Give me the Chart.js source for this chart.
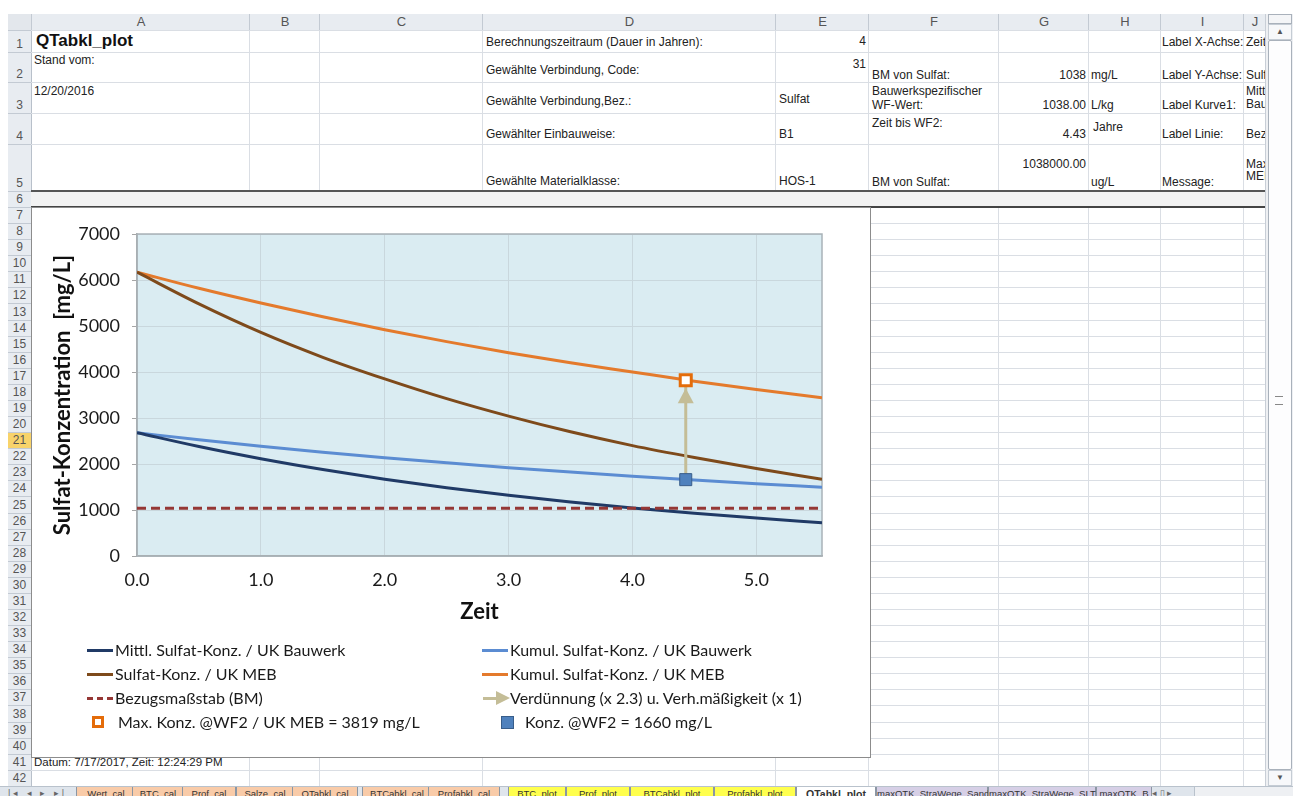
<!DOCTYPE html>
<html>
<head>
<meta charset="utf-8">
<title>QTabkl_plot</title>
<script src="https://cdn.jsdelivr.net/npm/chart.js@4.4.1/dist/chart.umd.min.js"></script>
<style>
  body { margin: 0; width: 1293px; height: 796px; overflow: hidden; background: #fff; position: relative;
         font-family: "Liberation Sans", Arial, sans-serif; }
  .abs { position: absolute; }
  .txt { position: absolute; white-space: nowrap; font-size: 12px; color: #222; line-height: 14px; }
  #sheet, #texts { position: absolute; left: 0; top: 0; width: 1265px; height: 796px; overflow: hidden; }
  #chartBox { position: absolute; left: 31px; top: 207px; width: 838px; height: 549px;
              border: 1px solid #8c8c8c; background: #fff; z-index: 5; }
  #chartBox canvas { position: absolute; left: 0; top: 0; }
  .leg { position: absolute; font-family: Lato, "Open Sans", sans-serif; font-size: 16px; color: #1a1a1a;
         white-space: nowrap; line-height: 18px; }
  #tabs { position: absolute; left: 0; top: 786px; width: 1293px; height: 20px; background: #dfe5ec;
          border-top: 1px solid #b9c2cc; z-index: 6; font-size: 9.5px; }
  .tab { position: absolute; top: 0; height: 20px; line-height: 14px; text-align: center; color: #333;
         border-left: 1px solid #8b96a3; border-right: 1px solid #8b96a3; }
  #vscroll { position: absolute; left: 1265px; top: 14px; width: 28px; height: 772px; background: #eef0f3;
             border-left: 1px solid #c8ced6; z-index: 6; }
</style>
</head>
<body>
<div id="sheet"></div>
<div id="texts"></div>
<div id="chartBox"><canvas id="chart" width="838" height="549"></canvas></div>
<div id="vscroll"></div>
<div id="tabs"></div>

<script>
// --- Werte aus dem Diagramm ---
const zeit = [0, 0.5, 1, 1.5, 2, 2.5, 3, 3.5, 4, 4.5, 5, 5.53];
const mittlBauwerk = [2680, 2380, 2115, 1880, 1670, 1485, 1320, 1175, 1045, 930, 825, 725];
const kumulBauwerk = [2680, 2525, 2385, 2255, 2135, 2025, 1920, 1825, 1735, 1650, 1570, 1495];
const konzMEB = [6170, 5480, 4860, 4320, 3850, 3420, 3040, 2700, 2400, 2140, 1900, 1670];
const kumulMEB = [6170, 5820, 5500, 5200, 4920, 4660, 4420, 4200, 4000, 3800, 3620, 3440];
const bmSulfat = 1038;
const zeitWF2 = 4.43;
const maxKonzWF2 = 3819;
const konzWF2 = 1660;
const xTicks = [0, 1, 2, 3, 4, 5];
const yTicks = [0, 1000, 2000, 3000, 4000, 5000, 6000, 7000];

// --- Tabellenblatt nachbauen ---
const sheet = document.getElementById('sheet');
const texts = document.getElementById('texts');
function box(parent, l, t, w, h, css) {
    const d = document.createElement('div');
    d.className = 'abs';
    d.style.cssText += `left:${l}px;top:${t}px;width:${w}px;height:${h}px;` + (css || '');
    parent.appendChild(d);
    return d;
}

const colEdges = [31, 249, 319, 482, 775, 868, 998, 1088, 1160, 1243, 1265];
const colNames = ['A', 'B', 'C', 'D', 'E', 'F', 'G', 'H', 'I', 'J'];
const rowEdges = [30, 52, 82, 113, 144, 191, 207];
for (let k = 1; k <= 36; k++) rowEdges.push(207 + k * 16.08);

// Kopfzeile und Zeilenköpfe
box(sheet, 8, 14, 1257, 16, 'background:#e8ecf1;border-bottom:1px solid #b8c0ca;');
box(sheet, 8, 30, 23, 756, 'background:#e8ecf1;border-right:1px solid #b8c0ca;');
box(sheet, 8, 14, 23, 16, 'background:#e3e7ec;border-right:1px solid #b8c0ca;');
colNames.forEach((n, i) => {
    const l = colEdges[i], w = colEdges[i + 1] - l;
    const c = box(sheet, l, 14, w, 16, 'border-left:1px solid #c3cad3;text-align:center;font-size:13px;line-height:16px;color:#555;');
    c.textContent = n;
});
for (let r = 0; r < rowEdges.length - 1; r++) {
    const t = rowEdges[r], h = rowEdges[r + 1] - t;
    const sel = r + 1 === 21;
    const c = box(sheet, 8, t, 23, h, `border-top:1px solid #c3cad3;font-size:12px;color:#555;text-align:center;` +
        `display:flex;align-items:flex-end;justify-content:center;box-sizing:border-box;padding-bottom:1px;` +
        (sel ? 'background:#f8d36a;' : ''));
    c.textContent = r + 1;
    // Gitterlinien
    box(sheet, 31, t, 1234, 1, 'background:#dadee4;');
}
colEdges.slice(1, -1).forEach(x => box(sheet, x, 30, 1, 756, 'background:#dadee4;'));
// Zeile 6 mit dicken Rahmenlinien
box(sheet, 31, 191, 1234, 16, 'background:#f2f2f2;');
box(sheet, 31, 190, 1234, 2, 'background:#555;');
box(sheet, 31, 206, 1234, 2, 'background:#444;');

// Zellinhalte: [x, yMitte, Text, rechtsbündig, Stil]
const cells = [
    [36, 41, 'QTabkl_plot', false, 'font-weight:bold;font-size:17px;color:#111;'],
    [486, 42, 'Berechnungszeitraum (Dauer in Jahren):'],
    [866, 41, '4', true],
    [1162, 42, 'Label X-Achse:'],
    [1246, 42, 'Zeit'],
    [34, 60, 'Stand vom:'],
    [486, 70, 'Gewählte Verbindung, Code:'],
    [866, 64, '31', true],
    [872, 75, 'BM von Sulfat:'],
    [1086, 75, '1038', true],
    [1091, 75, 'mg/L'],
    [1162, 75, 'Label Y-Achse:'],
    [1246, 75, 'Sulf'],
    [34, 91, '12/20/2016'],
    [486, 101, 'Gewählte Verbindung,Bez.:'],
    [779, 99, 'Sulfat'],
    [872, 91, 'Bauwerkspezifischer'],
    [872, 105, 'WF-Wert:'],
    [1086, 105, '1038.00', true],
    [1091, 105, 'L/kg'],
    [1162, 105, 'Label Kurve1:'],
    [1246, 91, 'Mitt'],
    [1246, 104, 'Bau'],
    [486, 134, 'Gewählter Einbauweise:'],
    [779, 134, 'B1'],
    [872, 123, 'Zeit bis WF2:'],
    [1086, 134, '4.43', true],
    [1093, 127, 'Jahre'],
    [1162, 134, 'Label Linie:'],
    [1246, 134, 'Bez'],
    [486, 181, 'Gewählte Materialklasse:'],
    [779, 181, 'HOS-1'],
    [872, 182, 'BM von Sulfat:'],
    [1086, 164, '1038000.00', true],
    [1091, 182, 'ug/L'],
    [1162, 182, 'Message:'],
    [1246, 164, 'Max'],
    [1246, 176, 'MEI'],
    [34, 762, 'Datum: 7/17/2017, Zeit: 12:24:29 PM', false, 'font-size:11.5px;']
];
cells.forEach(([x, y, s, right, css]) => {
    const d = document.createElement('div');
    d.className = 'txt';
    d.style.cssText += `top:${y - 7}px;` + (right ? `right:${1265 - x}px;` : `left:${x}px;`) + (css || '');
    d.textContent = s;
    texts.appendChild(d);
});

// vertikale Bildlaufleiste
const vs = document.getElementById('vscroll');
box(vs, 2, 0, 22, 8, 'background:#f4f5f7;border:1px solid #a9b1bb;');
box(vs, 2, 10, 22, 14, 'background:#f7f8fa;border:1px solid #c5ccd4;text-align:center;font-size:8px;line-height:14px;color:#555;').textContent = '▲';
box(vs, 2, 26, 22, 728, 'background:#fdfdfe;border:1px solid #a9b1bb;border-radius:2px;');
box(vs, 9, 382, 8, 7, 'border-top:1px solid #888;border-bottom:1px solid #888;');
box(vs, 2, 756, 22, 14, 'background:#f7f8fa;border:1px solid #c5ccd4;text-align:center;font-size:8px;line-height:14px;color:#555;').textContent = '▼';

// Blattregister
const tabsDiv = document.getElementById('tabs');
box(tabsDiv, 8, 0, 60, 13, 'font-size:9px;color:#666;line-height:13px;letter-spacing:3px;').textContent = '|◂ ◂ ▸ ▸|';
const tabs = [
    ['Wert_cal', 76, 58, '#f9cba8'], ['BTC_cal', 132, 50, '#f9cba8'], ['Prof_cal', 182, 52, '#f9cba8'],
    ['Salze_cal', 236, 56, '#f9cba8'], ['QTabkl_cal', 292, 64, '#f9cba8'], ['BTCabkl_cal', 362, 68, '#f9cba8'],
    ['Profabkl_cal', 428, 70, '#f9cba8'], ['BTC_plot', 508, 56, '#ffff4d'], ['Prof_plot', 566, 62, '#ffff4d'],
    ['BTCabkl_plot', 630, 82, '#ffff4d'], ['Profabkl_plot', 714, 80, '#ffff4d'], ['QTabkl_plot', 796, 78, '#ffffff'],
    ['maxQTK_StraWege_Sand', 876, 110, '#d6cfe6'], ['maxQTK_StraWege_SLT', 988, 106, '#d6cfe6'],
    ['maxQTK_B', 1096, 54, '#d6cfe6']
];
tabs.forEach(([n, l, w, bg]) => {
    const t = box(tabsDiv, l, 0, w, 20, `background:${bg};` + (n === 'QTabkl_plot' ? 'font-weight:bold;font-size:10.5px;' : ''));
    t.className = 'tab';
    t.textContent = n;
});
box(tabsDiv, 1152, 0, 40, 13, 'font-size:9px;color:#666;line-height:12px;').textContent = '◂ ▯ ▸';
box(tabsDiv, 1194, 0, 99, 12, 'background:#eef0f3;border-left:1px solid #b9c2cc;');

// --- Diagramm ---
Chart.defaults.font.family = 'Lato, "Open Sans", sans-serif';
Chart.defaults.color = '#1a1a1a';

const pts = ys => zeit.map((t, i) => ({ x: t, y: ys[i] }));
const lastZeit = zeit[zeit.length - 1];

const excelPlot = {
    id: 'excelPlot',
    beforeDraw(chart) {
        const { ctx, chartArea: a } = chart;
        ctx.save();
        ctx.fillStyle = '#daecf2';
        ctx.fillRect(a.left, a.top, a.right - a.left, a.bottom - a.top);
        ctx.restore();
    },
    beforeDatasetsDraw(chart) {
        const { ctx, chartArea: a } = chart;
        ctx.save();
        ctx.strokeStyle = '#a9b3b8';
        ctx.lineWidth = 1.5;
        ctx.strokeRect(a.left, a.top, a.right - a.left, a.bottom - a.top);
        ctx.restore();
    },
    afterDatasetsDraw(chart) {
        // Pfeilspitze unter dem Max.-Marker
        const meta = chart.getDatasetMeta(5);
        const tip = meta.data[1];
        if (!tip) return;
        const { ctx } = chart;
        const y = tip.y + 8;
        ctx.save();
        ctx.fillStyle = '#c4bd97';
        ctx.beginPath();
        ctx.moveTo(tip.x, y);
        ctx.lineTo(tip.x - 8, y + 15);
        ctx.lineTo(tip.x + 8, y + 15);
        ctx.closePath();
        ctx.fill();
        ctx.restore();
    }
};

const chart = new Chart(document.getElementById('chart'), {
    type: 'line',
    data: {
        datasets: [
            { label: 'Mittl. Sulfat-Konz. / UK Bauwerk', data: pts(mittlBauwerk), borderColor: '#203a66', order: 2, legendType: 'line' },
            { label: 'Kumul. Sulfat-Konz. / UK Bauwerk', data: pts(kumulBauwerk), borderColor: '#5b8cd2', order: 2, legendType: 'line' },
            { label: 'Sulfat-Konz. / UK MEB', data: pts(konzMEB), borderColor: '#7e4a1b', order: 2, legendType: 'line' },
            { label: 'Kumul. Sulfat-Konz. / UK MEB', data: pts(kumulMEB), borderColor: '#e47a2c', order: 2, legendType: 'line' },
            { label: 'Bezugsmaßstab (BM)', data: [{ x: zeit[0], y: bmSulfat }, { x: lastZeit, y: bmSulfat }],
              borderColor: '#953735', borderDash: [9, 5], order: 1.5, legendType: 'dash' },
            { label: 'Verdünnung (x 2.3) u. Verh.mäßigkeit (x 1)', data: [{ x: zeitWF2, y: konzWF2 }, { x: zeitWF2, y: maxKonzWF2 }],
              borderColor: '#c4bd97', order: 1, legendType: 'arrow' },
            { label: 'Max. Konz. @WF2 / UK MEB = ' + maxKonzWF2 + ' mg/L', data: [{ x: zeitWF2, y: maxKonzWF2 }],
              showLine: false, pointStyle: 'rect', pointRadius: 7.8, pointBorderWidth: 3,
              borderColor: '#e46c0a', backgroundColor: '#ffffff', order: 0, legendType: 'hollow' },
            { label: 'Konz. @WF2 = ' + konzWF2 + ' mg/L', data: [{ x: zeitWF2, y: konzWF2 }],
              showLine: false, pointStyle: 'rect', pointRadius: 8.5, pointBorderWidth: 1,
              borderColor: '#385d8a', backgroundColor: '#4f81bd', order: 0, legendType: 'filled' }
        ]
    },
    options: {
        responsive: false,
        animation: false,
        events: [],
        elements: {
            line: { borderWidth: 3, cubicInterpolationMode: 'monotone', fill: false },
            point: { radius: 0 }
        },
        layout: { padding: { top: 26, right: 48, bottom: 121, left: 0 } },
        plugins: { legend: { display: false }, tooltip: { enabled: false } },
        scales: {
            x: {
                type: 'linear',
                min: 0,
                max: lastZeit,
                afterBuildTicks: s => { s.ticks = xTicks.map(v => ({ value: v })); },
                afterFit: s => { s.height = 80; },
                ticks: { font: { size: 18 }, padding: 13, callback: v => v.toFixed(1) },
                grid: { color: '#c9d7dd', drawTicks: false },
                border: { color: '#a6a6a6', width: 1.5 },
                title: { display: true, text: 'Zeit', font: { size: 22, weight: 'bold' }, padding: { top: 0, bottom: 11 }, color: '#111' }
            },
            y: {
                min: 0,
                max: 7000,
                afterBuildTicks: s => { s.ticks = yTicks.map(v => ({ value: v })); },
                afterFit: s => { s.width = 105; },
                ticks: { font: { size: 18 }, padding: 12, callback: v => String(v) },
                grid: { color: '#c9d7dd', tickLength: 5, tickColor: '#a6a6a6' },
                border: { color: '#a6a6a6', width: 1.5 },
                title: { display: true, text: 'Sulfat-Konzentration  [mg/L]', font: { size: 22, weight: 'bold' },
                         padding: { top: 18, bottom: 0 }, color: '#111' }
            }
        }
    },
    plugins: [excelPlot]
});

// --- Legende (zweispaltig wie in Excel), aus den Datensätzen erzeugt ---
const chartBox = document.getElementById('chartBox');
const legCols = [55, 450];
const legRows = [442, 466, 490, 514];
chart.data.datasets.forEach((ds, i) => {
    const x = legCols[i % 2], y = legRows[Math.floor(i / 2)];
    const c = ds.borderColor;
    let textX = x + 28;
    if (ds.legendType === 'line') {
        box(chartBox, x, y - 1.5, 26, 3, `background:${c};`);
    } else if (ds.legendType === 'dash') {
        box(chartBox, x, y - 1.5, 26, 3, `background:repeating-linear-gradient(90deg,${c} 0 6px,transparent 6px 10px);`);
    } else if (ds.legendType === 'arrow') {
        box(chartBox, x + 1, y - 1.5, 15, 3, `background:${c};`);
        box(chartBox, x + 14, y - 7, 0, 0, `border-top:7px solid transparent;border-bottom:7px solid transparent;border-left:14px solid ${c};`);
    } else if (ds.legendType === 'hollow') {
        box(chartBox, x + 5, y - 6, 6, 6, `border:3px solid ${c};background:${ds.backgroundColor};`);
        textX = x + 31;
    } else if (ds.legendType === 'filled') {
        box(chartBox, x + 19, y - 6, 11, 11, `border:1px solid ${c};background:${ds.backgroundColor};`);
        textX = x + 43;
    }
    const t = document.createElement('div');
    t.className = 'leg';
    t.style.left = textX + 'px';
    t.style.top = (y - 9) + 'px';
    t.textContent = ds.label;
    chartBox.appendChild(t);
});
</script>
</body>
</html>
